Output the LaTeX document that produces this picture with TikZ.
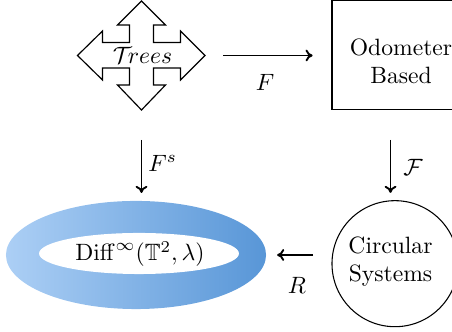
\documentclass[tikz,border=0pt]{standalone}
\usepackage{amssymb}
\usetikzlibrary{shapes.geometric,arrows.meta}
\definecolor{ringL}{RGB}{172,207,245}
\definecolor{ringR}{RGB}{88,150,215}
\tikzset{
  arr/.style={-{To[length=3pt,width=5pt]}, line width=0.8pt},
  lbl/.style={inner sep=0pt},
  frame/.style={draw, line width=0.45pt},
}
\begin{document}
\begin{tikzpicture}[x=0.4237pt,y=-0.4237pt]
\useasboundingbox (0,0) rectangle (452,332);
\clip (0,0) rectangle (452,332);
% four-way arrow shape
\draw[line width=0.5pt, line join=miter, fill=white]
  (141.5,1) -- (165.5,25) -- (153.5,25) -- (153.5,42.5) -- (180.5,42.5) -- (180.5,31)
  -- (205,55.5) -- (180.5,80) -- (180.5,68) -- (153.5,68) -- (153.5,85) -- (165.5,85)
  -- (141.5,110) -- (117.5,85) -- (129.5,85) -- (129.5,68) -- (102.5,68) -- (102.5,80)
  -- (77.5,55.5) -- (102.5,31) -- (102.5,42.5) -- (129.5,42.5) -- (129.5,25) -- (117.5,25) -- cycle;
\node[minimum width=54.2pt, minimum height=46.2pt, inner sep=0pt, outer sep=0pt] (trees) at (141.5,55.5) {};
\node[lbl] (treestext) at (142.5,55) {$\mathcal{T}\!rees$};
% odometer box
\node[frame, rectangle, minimum width=58.5pt, minimum height=45.8pt, inner sep=0pt, outer sep=0pt] (odo) at (401,55) {};
\node[lbl, align=center] (odotext) at (401,61.5) {Odometer\\Based};
% circle
\node[frame, circle, minimum size=53.4pt, inner sep=0pt, outer sep=0pt] (circ) at (395,263.7) {};
\node[lbl, align=center] (circtext) at (390.5,261.5) {Circular\\Systems};
% ring
\node[ellipse, minimum width=110.2pt, minimum height=45.8pt, inner sep=0pt, outer sep=0pt,
      left color=ringL, right color=ringR, shading angle=90] (diffo) at (136,255) {};
\node[ellipse, fill=white, minimum width=84.7pt, minimum height=17.4pt, inner sep=0pt, outer sep=0pt] (diffi) at (139,253.5) {};
\node[lbl] (difftext) at (140,254) {$\mathrm{Diff}^{\infty}(\mathbb{T}^2,\lambda)$};
% arrows
\draw[arr, shorten <=7.5pt, shorten >=8.2pt] (trees.east) -- (trees.east -| odo.west);
\draw[arr, shorten <=12.7pt, shorten >=3.4pt] (trees.south) -- (trees.south |- diffo.north);
\draw[arr, shorten <=13.1pt, shorten >=3.3pt] (odo.south -| circtext) -- (circ.north -| circtext);
\draw[arr, shorten <=8pt, shorten >=4.7pt] (circ.west |- diffo.east) -- (diffo.east);
% labels
\node[lbl] (lF) at (265,82) {$F$};
\node[lbl, anchor=west] (lFs) at (148,163) {$F^s$};
\node[lbl, anchor=west] (lcF) at (403,167) {$\mathcal{F}$};
\node[lbl] (lR) at (297,285) {$R$};
\end{tikzpicture}
\end{document}
